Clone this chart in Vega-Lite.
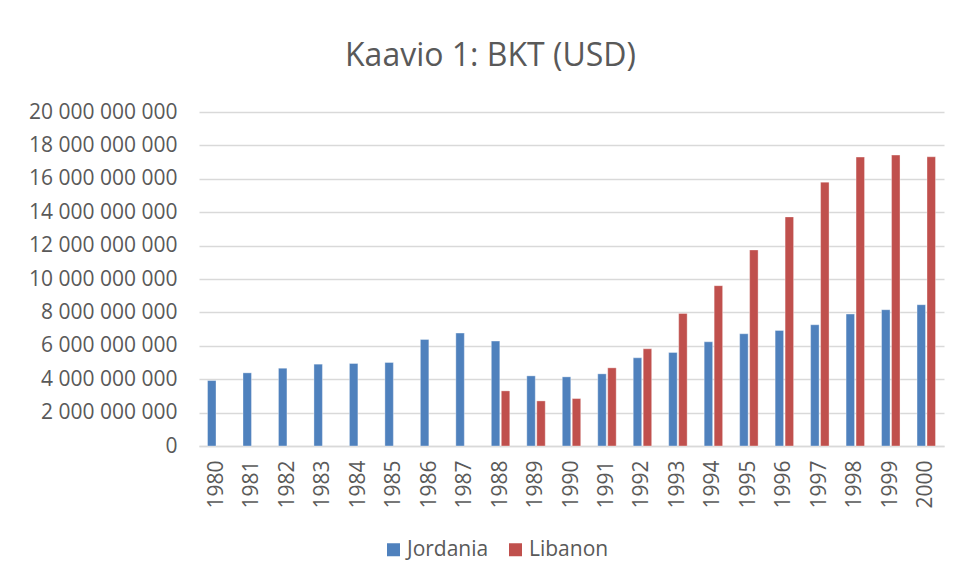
{
  "$schema": "https://vega.github.io/schema/vega-lite/v6.json",
  "autosize": {"type": "none"},
  "width": 745,
  "height": 334,
  "padding": {"left": 199, "top": 112, "right": 18, "bottom": 137},
  "background": "white",
  "title": {
    "text": "Kaavio 1: BKT (USD)",
    "anchor": "middle",
    "dx": -81,
    "offset": 28,
    "font": "Open Sans",
    "fontSize": 32,
    "fontWeight": "normal",
    "color": "#595959"
  },
  "data": {
    "values": [
      {"year": "1980", "country": "Jordania", "gdp": 3920000000},
      {"year": "1981", "country": "Jordania", "gdp": 4380000000},
      {"year": "1982", "country": "Jordania", "gdp": 4660000000},
      {"year": "1983", "country": "Jordania", "gdp": 4900000000},
      {"year": "1984", "country": "Jordania", "gdp": 4940000000},
      {"year": "1985", "country": "Jordania", "gdp": 5000000000},
      {"year": "1986", "country": "Jordania", "gdp": 6380000000},
      {"year": "1987", "country": "Jordania", "gdp": 6760000000},
      {"year": "1988", "country": "Jordania", "gdp": 6280000000},
      {"year": "1989", "country": "Jordania", "gdp": 4200000000},
      {"year": "1990", "country": "Jordania", "gdp": 4140000000},
      {"year": "1991", "country": "Jordania", "gdp": 4320000000},
      {"year": "1992", "country": "Jordania", "gdp": 5280000000},
      {"year": "1993", "country": "Jordania", "gdp": 5600000000},
      {"year": "1994", "country": "Jordania", "gdp": 6240000000},
      {"year": "1995", "country": "Jordania", "gdp": 6720000000},
      {"year": "1996", "country": "Jordania", "gdp": 6920000000},
      {"year": "1997", "country": "Jordania", "gdp": 7260000000},
      {"year": "1998", "country": "Jordania", "gdp": 7900000000},
      {"year": "1999", "country": "Jordania", "gdp": 8160000000},
      {"year": "2000", "country": "Jordania", "gdp": 8460000000},
      {"year": "1988", "country": "Libanon", "gdp": 3300000000},
      {"year": "1989", "country": "Libanon", "gdp": 2700000000},
      {"year": "1990", "country": "Libanon", "gdp": 2840000000},
      {"year": "1991", "country": "Libanon", "gdp": 4680000000},
      {"year": "1992", "country": "Libanon", "gdp": 5820000000},
      {"year": "1993", "country": "Libanon", "gdp": 7940000000},
      {"year": "1994", "country": "Libanon", "gdp": 9600000000},
      {"year": "1995", "country": "Libanon", "gdp": 11740000000},
      {"year": "1996", "country": "Libanon", "gdp": 13720000000},
      {"year": "1997", "country": "Libanon", "gdp": 15800000000},
      {"year": "1998", "country": "Libanon", "gdp": 17300000000},
      {"year": "1999", "country": "Libanon", "gdp": 17420000000},
      {"year": "2000", "country": "Libanon", "gdp": 17320000000}
    ]
  },
  "mark": {"type": "bar", "stroke": "white", "strokeOpacity": 0.5, "strokeWidth": 0.7},
  "encoding": {
    "x": {
      "field": "year",
      "type": "nominal",
      "title": null,
      "scale": {"paddingInner": 0.48, "paddingOuter": 0.24},
      "axis": {
        "labelAngle": -90,
        "labelAlign": "right",
        "labelBaseline": "middle",
        "labelPadding": 14,
        "labelFont": "Open Sans",
        "labelFontSize": 21,
        "labelColor": "#595959",
        "ticks": false,
        "domainColor": "#d9d9d9",
        "domainWidth": 1.5,
        "grid": false
      }
    },
    "xOffset": {
      "field": "country",
      "type": "nominal",
      "scale": {"domain": ["Jordania", "Libanon"], "paddingInner": 0.15}
    },
    "y": {
      "field": "gdp",
      "type": "quantitative",
      "title": null,
      "scale": {"domain": [0, 20000000000], "nice": false},
      "axis": {
        "values": [0, 2000000000, 4000000000, 6000000000, 8000000000, 10000000000, 12000000000, 14000000000, 16000000000, 18000000000, 20000000000],
        "format": ",.0f",
        "labelPadding": 22,
        "labelFont": "Open Sans",
        "labelFontSize": 21,
        "labelColor": "#595959",
        "ticks": false,
        "domain": false,
        "gridColor": "#d9d9d9",
        "gridWidth": 1.5
      }
    },
    "color": {
      "field": "country",
      "type": "nominal",
      "scale": {"domain": ["Jordania", "Libanon"], "range": ["#4F81BD", "#C0504D"]},
      "legend": {
        "title": null,
        "orient": "none",
        "direction": "horizontal",
        "legendX": 184,
        "legendY": 427,
        "symbolType": "square",
        "symbolSize": 169,
        "symbolStrokeWidth": 0,
        "labelFont": "Open Sans",
        "labelFontSize": 21,
        "labelColor": "#595959",
        "labelOffset": 3,
        "columnPadding": 16
      }
    }
  },
  "config": {
    "locale": {
      "number": {"decimal": ",", "thousands": " ", "grouping": [3], "currency": ["", " €"]}
    },
    "view": {"stroke": null}
  }
}
